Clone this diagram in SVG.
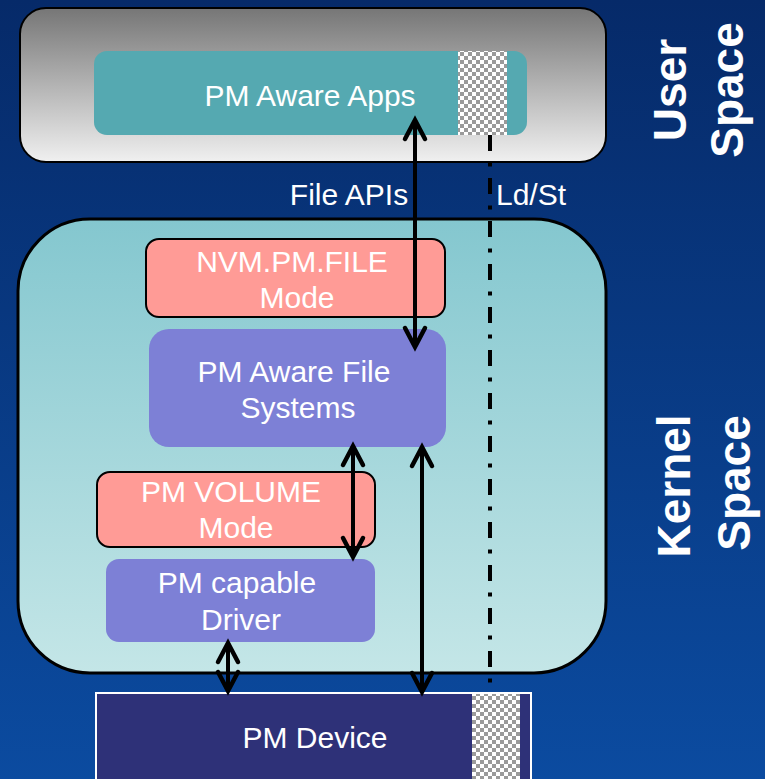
<svg xmlns="http://www.w3.org/2000/svg" width="765" height="779" viewBox="0 0 765 779">
<defs>
<linearGradient id="bg" x1="0" y1="0" x2="0" y2="1"><stop offset="0" stop-color="#062a69"/><stop offset="1" stop-color="#0b4ba0"/></linearGradient>
<linearGradient id="ug" x1="0" y1="0" x2="0" y2="1"><stop offset="0" stop-color="#767676"/><stop offset="1" stop-color="#f0f0f0"/></linearGradient>
<linearGradient id="kg" x1="0" y1="0" x2="0" y2="1"><stop offset="0" stop-color="#84c7cf"/><stop offset="1" stop-color="#c4e6e7"/></linearGradient>
<pattern id="chk" width="8" height="8" patternUnits="userSpaceOnUse"><rect width="8" height="8" fill="#ffffff"/><rect width="4" height="4" fill="#9a9a9a"/><rect x="4" y="4" width="4" height="4" fill="#9a9a9a"/></pattern>
<marker id="arr" markerUnits="userSpaceOnUse" viewBox="-24 -14 28 28" refX="0" refY="0" markerWidth="28" markerHeight="28" orient="auto-start-reverse" overflow="visible"><path d="M-19,-10 L0,0 L-19,10" fill="none" stroke="#000" stroke-width="4.5" stroke-linecap="round" stroke-linejoin="miter"/></marker>
<style>
.t{font-family:"Liberation Sans",Arial,sans-serif;font-size:30px;fill:#fff;text-anchor:middle}
.side{font-family:"Liberation Sans",Arial,sans-serif;font-size:46px;font-weight:bold;fill:#fff;text-anchor:middle}
.conn{stroke:#000;stroke-width:4;fill:none;marker-start:url(#arr);marker-end:url(#arr)}
.box{stroke:#000;stroke-width:2}
</style>
</defs>
<rect width="765" height="779" fill="url(#bg)"/>
<g id="user-space">
<rect x="20" y="8" width="586" height="154" rx="26" fill="url(#ug)" stroke="#000" stroke-width="2"/>
<text class="side" transform="translate(686,90) rotate(-90)">User</text>
<text class="side" transform="translate(743,90) rotate(-90)">Space</text>
</g>
<g id="kernel-space">
<rect x="18" y="219" width="588" height="454" rx="72" fill="url(#kg)" stroke="#000" stroke-width="3"/>
<text class="side" transform="translate(690,486) rotate(-90)">Kernel</text>
<text class="side" transform="translate(750,483) rotate(-90)">Space</text>
</g>
<g id="pm-aware-apps">
<rect x="94" y="51" width="433" height="84" rx="13" fill="#55a9b1"/>
<rect x="458" y="51" width="49" height="84" fill="url(#chk)"/>
<text class="t" x="310" y="106">PM Aware Apps</text>
</g>
<g id="nvm-pm-file">
<rect class="box" x="146" y="239" width="299" height="78" rx="13" fill="#ff9b96"/>
<text class="t" x="292" y="272">NVM.PM.FILE</text>
<text class="t" x="297" y="308">Mode</text>
</g>
<g id="pm-aware-fs">
<rect x="149" y="329" width="297" height="118" rx="20" fill="#7d80d6"/>
<text class="t" x="294" y="382">PM Aware File</text>
<text class="t" x="298" y="418">Systems</text>
</g>
<g id="pm-volume">
<rect class="box" x="97" y="472" width="278" height="75" rx="13" fill="#ff9b96"/>
<text class="t" x="231" y="502">PM VOLUME</text>
<text class="t" x="236" y="538">Mode</text>
</g>
<g id="pm-driver">
<rect x="106" y="559" width="269" height="83" rx="13" fill="#7d80d6"/>
<text class="t" x="237" y="593">PM capable</text>
<text class="t" x="241" y="630">Driver</text>
</g>
<g id="pm-device">
<rect x="96" y="693" width="435" height="100" fill="#2e3178" stroke="#fff" stroke-width="2"/>
<rect x="472" y="694" width="48" height="90" fill="url(#chk)"/>
<text class="t" x="315" y="748">PM Device</text>
</g>
<g id="connectors">
<line class="conn" x1="415" y1="347" x2="415" y2="120"/>
<line class="conn" x1="353" y1="557" x2="353" y2="446"/>
<line class="conn" x1="422" y1="692" x2="422" y2="447"/>
<line class="conn" x1="228" y1="691" x2="228" y2="643"/>
<line x1="490" y1="135" x2="490" y2="688" stroke="#000" stroke-width="4" stroke-dasharray="16 11.5 4 11.5"/>
<text class="t" x="349" y="205">File APIs</text>
<text class="t" x="531" y="205">Ld/St</text>
</g>
</svg>
